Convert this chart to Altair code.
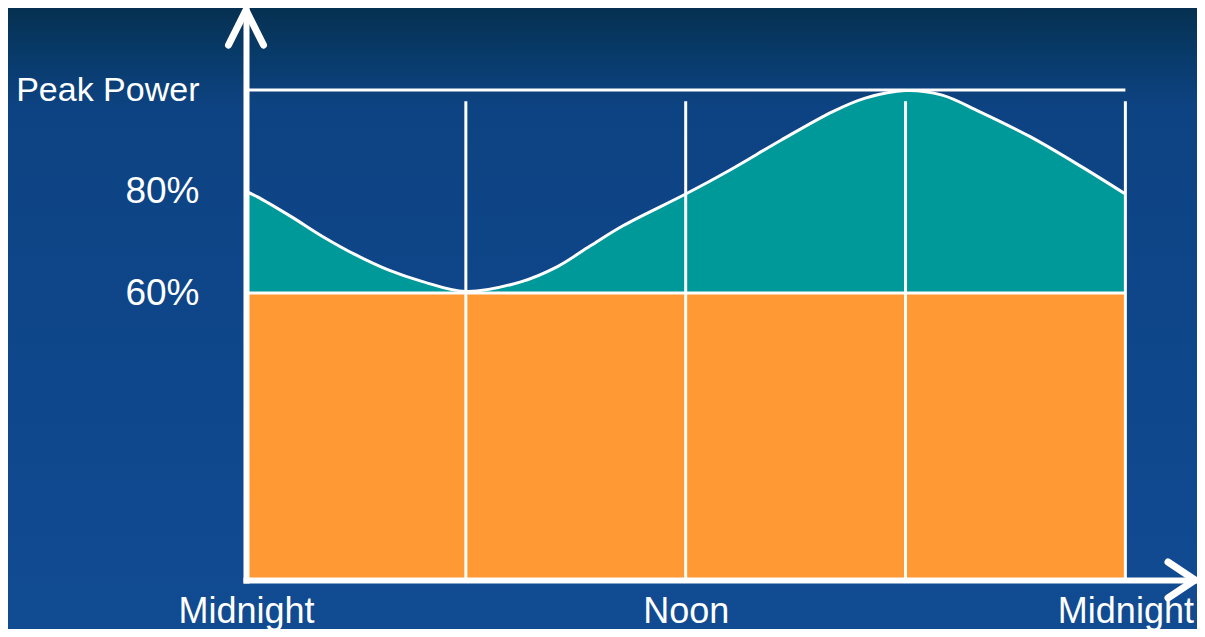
import altair as alt
import pandas as pd

# ---- data ----
hours = [0, 0.3, 1.2, 2.1, 3.0, 3.9, 4.8, 6.0, 7.5, 8.5, 9.4, 10.3, 12.0,
         13.2, 14.6, 16.0, 16.9, 18.0, 19.0, 20.0, 21.4, 22.8, 24.0]
power = [80.0, 79.0, 75.2, 71.1, 67.5, 64.5, 62.3, 60.3, 62.2, 65.2, 69.3, 73.3, 79.5,
         84.2, 90.1, 95.7, 98.4, 99.9, 99.0, 95.8, 90.8, 84.9, 79.5]
base_level = 60          # constant base load (orange)
peak_level = 100         # peak power line
divider_hours = [6, 12, 18, 24]
divider_top = 97.8
day_start, day_end = 0, 24
y_ticks = [60, 80, 100]
y_labels = ["60%", "80%", "Peak Power"]
x_ticks = [0, 12, 24]
x_labels = ["Midnight", "Noon", "Midnight"]

X_MAX = 25.9             # end of the x arrow
Y_MAX = 120
Y_TIP = 119.5            # tip of the y arrow

FONT = "Liberation Sans"
WHITE = "#ffffff"

curve = pd.DataFrame({"h": hours, "p": power})
base = pd.DataFrame({"h0": [day_start], "h1": [day_end], "lo": [0], "hi": [base_level]})
hlines = pd.DataFrame({"level": [base_level, peak_level]})
vlines = pd.DataFrame({"h": divider_hours})
yarrow = pd.DataFrame({"h": [day_start], "p": [Y_TIP]})
xarrow = pd.DataFrame({"h": [X_MAX], "p": [0]})


def label_expr(vals, labels):
    expr = "''"
    for v, l in reversed(list(zip(vals, labels))):
        expr = f"datum.value == {v} ? '{l}' : ({expr})"
    return expr


xs = alt.Scale(domain=[0, X_MAX], nice=False, zero=False)
ys = alt.Scale(domain=[0, 60, 100, Y_MAX], range=[572, 285, 82, 0], nice=False, zero=False)

x_axis = alt.Axis(values=x_ticks, labelExpr=label_expr(x_ticks, x_labels), title=None,
                  ticks=False, tickSize=0, grid=False, domainColor=WHITE, domainWidth=6,
                  domainCap="square", labelColor=WHITE, labelFont=FONT, labelFontSize=36,
                  labelPadding=14, labelFlush=False, labelOverlap=False, labelLimit=0,
                  zindex=2)
y_axis = alt.Axis(values=y_ticks, labelExpr=label_expr(y_ticks, y_labels), title=None,
                  ticks=False, tickSize=0, grid=False, domainColor=WHITE, domainWidth=6,
                  domainCap="square", labelColor=WHITE, labelFont=FONT,
                  labelFontSize={"condition": {"test": "datum.value == 100", "value": 34}, "value": 37},
                  labelPadding=47, labelFlush=False, labelOverlap=False, labelLimit=0,
                  zindex=2)

bg = alt.Chart(alt.Data(values=[{}])).mark_rect(
    color=alt.LinearGradient(
        gradient="linear", x1=0, x2=0, y1=0, y2=1,
        stops=[alt.GradientStop(color="#053050", offset=0),
               alt.GradientStop(color="#083a68", offset=0.07),
               alt.GradientStop(color="#0d4382", offset=0.16),
               alt.GradientStop(color="#0f478c", offset=0.6),
               alt.GradientStop(color="#114b92", offset=1)]),
    strokeWidth=0,
).encode(x=alt.value(-238), x2=alt.value(951), y=alt.value(0), y2=alt.value(621))

orange = alt.Chart(base).mark_rect(color="#ff9933", strokeWidth=0).encode(
    x=alt.X("h0:Q", scale=xs, axis=x_axis), x2="h1:Q",
    y=alt.Y("lo:Q", scale=ys, axis=y_axis), y2="hi:Q")

teal = alt.Chart(curve).mark_area(color="#009999", interpolate="catmull-rom", opacity=1).encode(
    x=alt.X("h:Q", scale=xs, axis=x_axis),
    y=alt.Y("p:Q", scale=ys, axis=y_axis), y2=alt.datum(base_level))

line = alt.Chart(curve).mark_line(color=WHITE, strokeWidth=3, interpolate="catmull-rom").encode(
    x=alt.X("h:Q", scale=xs, axis=x_axis),
    y=alt.Y("p:Q", scale=ys, axis=y_axis))

hrules = alt.Chart(hlines).mark_rule(color=WHITE, strokeWidth=3).encode(
    y=alt.Y("level:Q", scale=ys, axis=y_axis),
    x=alt.datum(day_start), x2=alt.datum(day_end))

vrules = alt.Chart(vlines).mark_rule(color=WHITE, strokeWidth=3).encode(
    x=alt.X("h:Q", scale=xs, axis=x_axis),
    y=alt.datum(0), y2=alt.datum(divider_top))

arrow_style = dict(filled=False, stroke=WHITE, strokeWidth=7, strokeCap="round",
                   strokeJoin="round", opacity=1)
yhead = alt.Chart(yarrow).mark_point(shape="M-1,2L0,0L1,2", size=1225, **arrow_style).encode(
    x=alt.X("h:Q", scale=xs, axis=x_axis), y=alt.Y("p:Q", scale=ys, axis=y_axis))
xhead = alt.Chart(xarrow).mark_point(shape="M-1.5,-1L0,0L-1.5,1", size=1296, **arrow_style).encode(
    x=alt.X("h:Q", scale=xs, axis=x_axis), y=alt.Y("p:Q", scale=ys, axis=y_axis))

chart = alt.layer(bg, orange, teal, line, hrules, vrules, yhead, xhead).properties(
    width=949, height=572,
    padding={"left": 238, "top": 0, "right": 2, "bottom": 49},
    autosize=alt.AutoSizeParams(type="none"),
    background="#0f468a",
).configure_view(stroke=None)

chart.save("out.html", embed_options={"renderer": "svg", "actions": False})
